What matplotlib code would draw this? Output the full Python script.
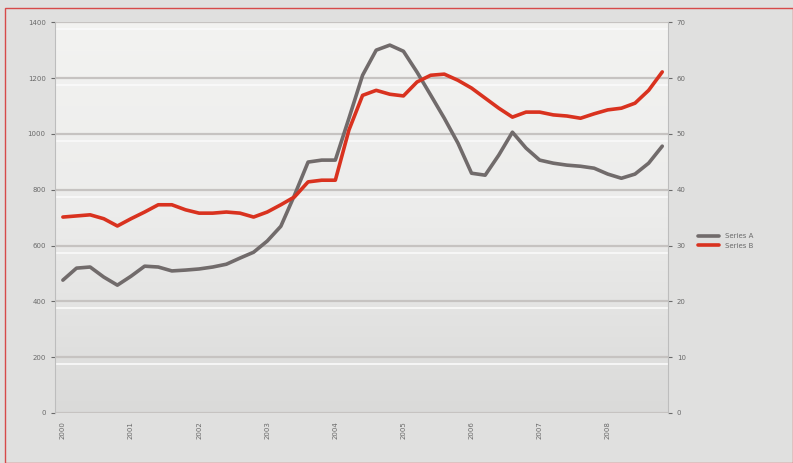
import matplotlib.pyplot as plt
from matplotlib.patches import Rectangle
from matplotlib.colors import LinearSegmentedColormap
import numpy as np

# values (left axis for grey, right axis for red)
periods = list(range(45))
grey_series = [476, 519, 523, 487, 458, 490, 526, 523, 509, 512,
               516, 523, 533, 555, 576, 616, 669, 780, 899, 906,
               906, 1056, 1210, 1300, 1318, 1296, 1221, 1139, 1056, 967,
               859, 852, 924, 1006, 949, 906, 895, 888, 884, 877,
               856, 841, 856, 895, 956]
red_series = [35.1, 35.3, 35.5, 34.8, 33.5, 34.8, 36.0, 37.3, 37.3, 36.4,
              35.8, 35.8, 36.0, 35.8, 35.1, 36.0, 37.3, 38.7, 41.4, 41.7,
              41.7, 50.7, 56.9, 57.8, 57.1, 56.8, 59.3, 60.5, 60.7, 59.6,
              58.2, 56.4, 54.6, 53.0, 53.9, 53.9, 53.4, 53.2, 52.8, 53.6,
              54.3, 54.6, 55.5, 57.8, 61.1]
x_ticks = [0, 5, 10, 15, 20, 25, 30, 35, 40]
x_labels = ["2000", "2001", "2002", "2003", "2004", "2005", "2006", "2007", "2008"]
left_ticks = [0, 200, 400, 600, 800, 1000, 1200, 1400]
right_ticks = [0, 10, 20, 30, 40, 50, 60, 70]
labels = ["Series A", "Series B"]

GREY = "#716b6b"
RED = "#d9321f"
TXT = "#6a6a6a"

fig = plt.figure(figsize=(7.93, 4.63), dpi=100)
fig.patch.set_facecolor("#e0e0df")
fig.patches.append(Rectangle((0.006, 0.0), 0.994, 0.983, transform=fig.transFigure,
                             fill=False, edgecolor="#d64a4a", linewidth=1.0))

ax = fig.add_axes([0.069, 0.108, 0.773, 0.844])
ax2 = ax.twinx()

# soft vertical gradient behind the plot
grad = LinearSegmentedColormap.from_list("bg", ["#dadad9", "#ececeb", "#f3f3f1"])
ax.imshow(np.linspace(0, 1, 256).reshape(-1, 1), cmap=grad, origin="lower",
          extent=[-0.6, 44.4, 0, 1400], aspect="auto", zorder=0)

l1, = ax.plot(periods, grey_series, color=GREY, lw=2.6, zorder=3,
              solid_capstyle="round", solid_joinstyle="round")
l2, = ax2.plot(periods, red_series, color=RED, lw=2.6, zorder=3,
               solid_capstyle="round", solid_joinstyle="round")

ax.set_xlim(-0.6, 44.4)
ax.set_ylim(0, 1400)
ax2.set_ylim(0, 70)
ax.set_yticks(left_ticks)
ax2.set_yticks(right_ticks)
ax.set_xticks(x_ticks)
ax.set_xticklabels(x_labels, rotation=90)

for y in left_ticks:
    ax.axhline(y, color="#c6c3c1", lw=1.6, zorder=1)
    ax.axhline(y - 25, color="#fafafa", lw=1.2, zorder=1)

for a in (ax, ax2):
    for s in a.spines.values():
        s.set_visible(False)
    a.tick_params(labelsize=5, colors=TXT, length=3, width=0.8)
ax.spines["left"].set_visible(True)
ax.spines["left"].set_color("#bdbdbd")
ax2.spines["right"].set_visible(True)
ax2.spines["right"].set_color("#bdbdbd")
ax.tick_params(axis="x", length=0, pad=6)

ax2.legend([l1, l2], labels, loc="center left", bbox_to_anchor=(1.04, 0.44),
           frameon=False, fontsize=5, labelcolor=TXT, handlelength=3)

fig.savefig("out.png", dpi=100, facecolor=fig.get_facecolor())
